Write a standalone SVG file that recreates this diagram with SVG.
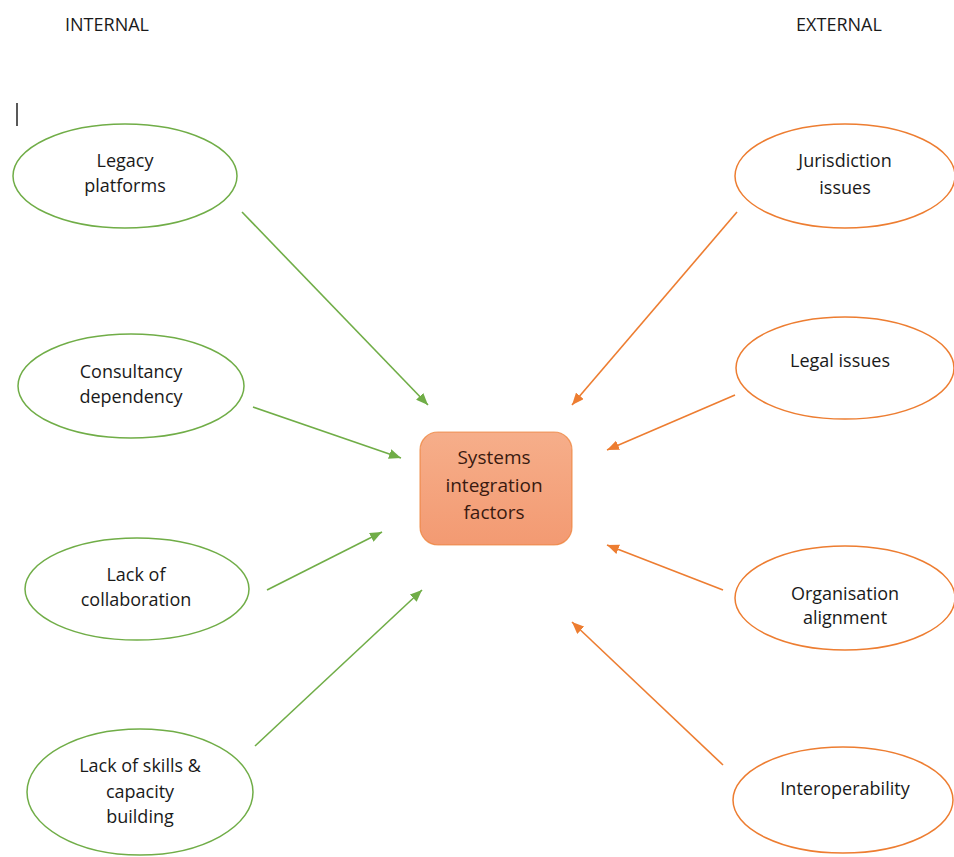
<svg xmlns="http://www.w3.org/2000/svg" width="954" height="857" viewBox="0 0 954 857">
<defs>
<style>
text{font-family:"Open Sans","Noto Sans","Liberation Sans",sans-serif;font-size:18px;fill:#1a1a1a;text-anchor:middle}
.g{fill:#fff;stroke:#70AD47;stroke-width:1.5}
.o{fill:#fff;stroke:#ED7D31;stroke-width:1.5}
.lg{stroke:#70AD47;stroke-width:1.6;fill:none;marker-end:url(#ag)}
.lo{stroke:#ED7D31;stroke-width:1.6;fill:none;marker-end:url(#ao)}
.hdr{font-size:18px}
.ctr{font-size:19px;fill:#3a1a10}
</style>
<linearGradient id="bf" x1="0" y1="0" x2="0" y2="1">
<stop offset="0" stop-color="#F6AE8A"/>
<stop offset="1" stop-color="#F39A72"/>
</linearGradient>
<marker id="ag" viewBox="0 0 12 10" refX="12" refY="5" markerWidth="12" markerHeight="10" markerUnits="userSpaceOnUse" orient="auto">
<path d="M0,0 L12,5 L0,10 Z" fill="#70AD47"/>
</marker>
<marker id="ao" viewBox="0 0 12 10" refX="12" refY="5" markerWidth="12" markerHeight="10" markerUnits="userSpaceOnUse" orient="auto">
<path d="M0,0 L12,5 L0,10 Z" fill="#ED7D31"/>
</marker>
</defs>
<rect width="954" height="857" fill="#fff"/>
<text class="hdr" x="107" y="31">INTERNAL</text>
<text class="hdr" x="839" y="31">EXTERNAL</text>
<line x1="17" y1="103" x2="17" y2="126" stroke="#222" stroke-width="1.5"/>

<g id="connectors">
<line class="lg" x1="242" y1="212" x2="428" y2="405"/>
<line class="lg" x1="253" y1="407" x2="401" y2="458"/>
<line class="lg" x1="267" y1="590" x2="382" y2="532"/>
<line class="lg" x1="255" y1="746" x2="422" y2="590"/>
<line class="lo" x1="737" y1="212" x2="572" y2="405"/>
<line class="lo" x1="735" y1="395" x2="607" y2="450"/>
<line class="lo" x1="723" y1="590" x2="607" y2="545"/>
<line class="lo" x1="723" y1="765" x2="572" y2="622"/>
</g>

<g id="center">
<rect x="420" y="432" width="152" height="113" rx="18" fill="url(#bf)" stroke="#ED7D31" stroke-width="1.2" stroke-opacity="0.7"/>
<text class="ctr" x="494" y="464">Systems</text>
<text class="ctr" x="494" y="492">integration</text>
<text class="ctr" x="494" y="519">factors</text>
</g>

<g id="legacy">
<ellipse class="g" cx="125" cy="176" rx="112" ry="52"/>
<text x="125" y="167">Legacy</text>
<text x="125" y="192">platforms</text>
</g>
<g id="consultancy">
<ellipse class="g" cx="131" cy="386" rx="113" ry="52"/>
<text x="131" y="378">Consultancy</text>
<text x="131" y="403">dependency</text>
</g>
<g id="collaboration">
<ellipse class="g" cx="137" cy="589" rx="112" ry="51"/>
<text x="136" y="581">Lack of</text>
<text x="136" y="606">collaboration</text>
</g>
<g id="skills">
<ellipse class="g" cx="140" cy="792" rx="113" ry="63"/>
<text x="140" y="772">Lack of skills &amp;</text>
<text x="140" y="798">capacity</text>
<text x="140" y="823">building</text>
</g>

<g id="jurisdiction">
<ellipse class="o" cx="845" cy="176" rx="110" ry="52"/>
<text x="845" y="167">Jurisdiction</text>
<text x="845" y="194">issues</text>
</g>
<g id="legal">
<ellipse class="o" cx="845" cy="368" rx="109" ry="51"/>
<text x="840" y="367">Legal issues</text>
</g>
<g id="organisation">
<ellipse class="o" cx="845" cy="598" rx="110" ry="52"/>
<text x="845" y="600">Organisation</text>
<text x="845" y="624">alignment</text>
</g>
<g id="interoperability">
<ellipse class="o" cx="843" cy="800" rx="110" ry="53"/>
<text x="845" y="795">Interoperability</text>
</g>
</svg>
